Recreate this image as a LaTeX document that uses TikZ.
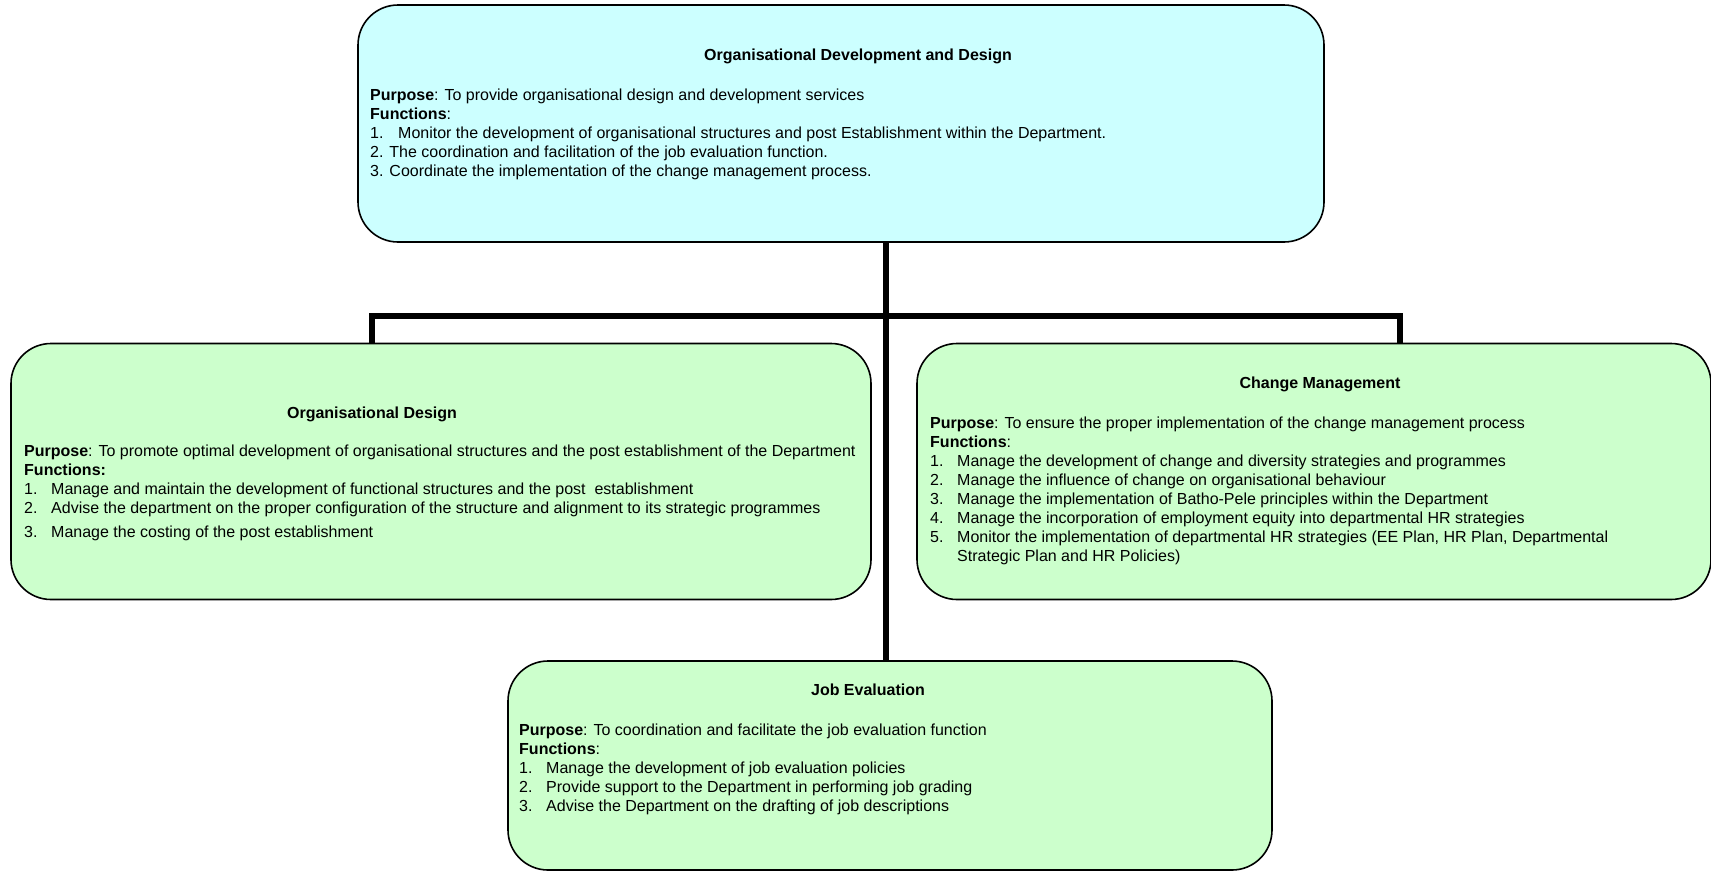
\documentclass[tikz,border=0pt]{standalone}
\usepackage{fontspec}
\setmainfont{Liberation Sans}
\definecolor{cyanbox}{HTML}{CCFFFF}
\definecolor{greenbox}{HTML}{CCFFCC}
\newcommand{\itemno}[1]{\makebox[27pt][l]{#1}}

\begin{document}
\begin{tikzpicture}[
			x=1pt, y=-1pt,
			every node/.style={font=\fontsize{16}{19}\selectfont},
			unit/.style={draw=black, line width=1.6pt, rounded corners=40pt, inner sep=0pt},
			topunit/.style={unit, fill=cyanbox},
			subunit/.style={unit, fill=greenbox},
			heading/.style={font=\fontsize{16}{19}\selectfont\bfseries, inner sep=0pt},
			duties/.style={align=left, anchor=north west, inner sep=0pt},
			link/.style={draw=black, line width=6pt}
			]
			\useasboundingbox (0,0) rectangle (1711,871);
			\node[topunit, minimum width=966pt, minimum height=237pt] (od) at (841,123.5) {};
			\node[subunit, minimum width=860pt, minimum height=256pt] (design) at (441,471.5) {};
			\node[subunit, minimum width=794pt, minimum height=256pt] (change) at (1314,471.5) {};
			\node[subunit, minimum width=764pt, minimum height=209pt] (jobeval) at (890,765.5) {};
			\coordinate (trunk) at (886,0);
			\coordinate (busL) at (372,316);
			\coordinate (busR) at (1400,316);
			\draw[link] (trunk |- od.south) -- (trunk |- jobeval.north);
			\draw[link] (design.north -| busL) -- (busL) -- (busR) -- (change.north -| busR);

			\node[heading] (od-title) at (858,56) {Organisational Development and Design};
			\node[duties] (od-text) at (370,88.5) {\textbf{Purpose}: To provide organisational design and development services\\
				\textbf{Functions}:\\
				\makebox[28pt][l]{1.}Monitor the development of organisational structures and post Establishment within the Department.\\
				2. The coordination and facilitation of the job evaluation function.\\
				3. Coordinate the implementation of the change management process.};

			\node[heading] (design-title) at (372,414) {Organisational Design};
			\node[duties] (design-text) at (24,445) {\textbf{Purpose}: To promote optimal development of organisational structures and the post establishment of the Department\\
				\textbf{Functions:}\\
				\itemno{1.}Manage and maintain the development of functional structures and the post~ establishment\\
				\itemno{2.}Advise the department on the proper configuration of the structure and alignment to its strategic programmes\\[5pt]
				\itemno{3.}Manage the costing of the post establishment};

			\node[heading] (change-title) at (1320,384) {Change Management};
			\node[duties] (change-text) at (930,416.5) {\textbf{Purpose}: To ensure the proper implementation of the change management process\\
				\textbf{Functions}:\\
				\itemno{1.}Manage the development of change and diversity strategies and programmes\\
				\itemno{2.}Manage the influence of change on organisational behaviour\\
				\itemno{3.}Manage the implementation of Batho-Pele principles within the Department\\
				\itemno{4.}Manage the incorporation of employment equity into departmental HR strategies\\
				\itemno{5.}Monitor the implementation of departmental HR strategies (EE Plan, HR Plan, Departmental\\
				\itemno{}Strategic Plan and HR Policies)};

			\node[heading] (jobeval-title) at (868,690) {Job Evaluation};
			\node[duties] (jobeval-text) at (519,724) {\textbf{Purpose}: To coordination and facilitate the job evaluation function\\
				\textbf{Functions}:\\
				\itemno{1.}Manage the development of job evaluation policies\\
				\itemno{2.}Provide support to the Department in performing job grading\\
				\itemno{3.}Advise the Department on the drafting of job descriptions};
		\end{tikzpicture}
\end{document}
